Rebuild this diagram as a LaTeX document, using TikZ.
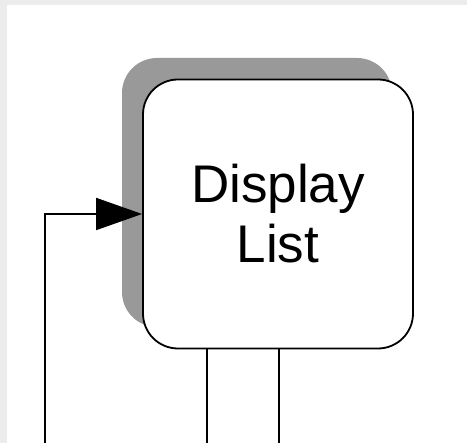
\documentclass[tikz,border=0pt]{standalone}
\usepackage{fontspec}
\setmainfont{Liberation Sans}
\usetikzlibrary{arrows.meta}

\definecolor{shadowgray}{HTML}{999999}
\definecolor{framegray}{HTML}{ECECEC}

\tikzset{
  listbox/.style={draw, fill=white, line width=1.8pt, rounded corners=35pt,
    minimum width=270pt, minimum height=269pt, align=center,
    font=\fontsize{53}{60}\selectfont},
  flow/.style={line width=1.8pt},
}

\begin{document}
\begin{tikzpicture}[x=1pt, y=-1pt]
  \useasboundingbox (0,0) rectangle (467,443);
  % thin frame at top and left
  \fill[framegray] (0,0) rectangle (467,5);
  \fill[framegray] (0,0) rectangle (7,443);
  % drop shadow, then the box
  \fill[shadowgray, rounded corners=35pt] (122,58) rectangle (392,327);
  \node[listbox] (dlist) at (278,214) {Display\\List};
  % input from the left
  \coordinate (feed) at (45,443);
  \draw[flow, -{Triangle[length=46pt, width=32pt]}] (feed) |- (dlist.west);
  % two outputs below
  \coordinate (outa) at (207,443);
  \coordinate (outb) at (279,443);
  \draw[flow] (dlist.south -| outa) -- (outa);
  \draw[flow] (dlist.south -| outb) -- (outb);
\end{tikzpicture}
\end{document}
